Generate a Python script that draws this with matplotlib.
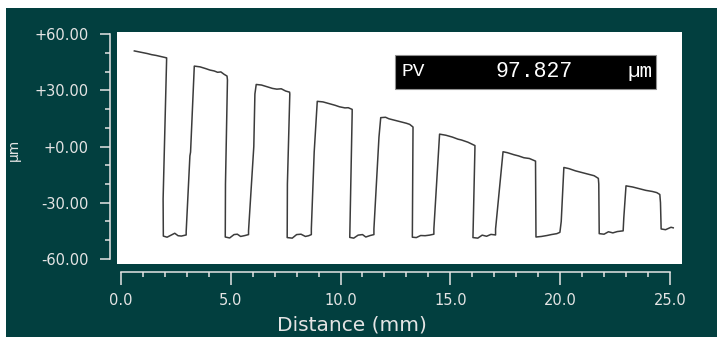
import matplotlib.pyplot as plt
from matplotlib.patches import Rectangle
from matplotlib.ticker import MultipleLocator

# Profile trace (distance in mm, height in um)
distance_mm = [
    0.61, 0.9, 1.2, 1.4, 1.6, 1.85, 2.08,
    2.08, 1.92, 1.93,
    1.93, 2.1, 2.3, 2.45, 2.6, 2.75, 2.97,
    2.97, 3.14, 3.17, 3.34,
    3.34, 3.6, 3.85, 4.05, 4.25, 4.4, 4.55, 4.7, 4.83,
    4.85, 4.76, 4.75,
    4.75, 4.95, 5.15, 5.3, 5.45, 5.65, 5.81,
    5.81, 6.05, 6.1, 6.16,
    6.16, 6.4, 6.7, 6.9, 7.1, 7.3, 7.5, 7.68,
    7.69, 7.58, 7.57,
    7.57, 7.8, 8.0, 8.2, 8.4, 8.55, 8.67,
    8.67, 8.8, 8.94,
    8.94, 9.2, 9.5, 9.75, 9.95, 10.2, 10.35, 10.53,
    10.53, 10.42,
    10.42, 10.6, 10.8, 11.0, 11.15, 11.35, 11.52,
    11.52, 11.75, 11.83,
    11.83, 12.05, 12.2, 12.5, 12.8, 13.0, 13.15, 13.3,
    13.3, 13.27,
    13.27, 13.45, 13.65, 13.85, 14.05, 14.25,
    14.25, 14.45, 14.51,
    14.51, 14.8, 15.1, 15.35, 15.5, 15.8, 16.0, 16.12,
    16.12, 16.03,
    16.03, 16.25, 16.45, 16.65, 16.85, 17.06,
    17.06, 17.3, 17.4,
    17.4, 17.6, 17.9, 18.1, 18.35, 18.6, 18.88,
    18.88, 18.9,
    18.9, 19.15, 19.4, 19.6, 19.85, 19.99,
    20.05, 20.17,
    20.17, 20.4, 20.7, 21.0, 21.3, 21.55, 21.74,
    21.76, 21.78,
    21.78, 22.0, 22.2, 22.4, 22.6, 22.87,
    22.9, 23.0,
    23.0, 23.3, 23.6, 23.9, 24.2, 24.4, 24.54,
    24.57, 24.6,
    24.6, 24.8, 24.95, 25.05, 25.15,
]
height_um = [
    51.0, 50.3, 49.6, 49.0, 48.6, 47.9, 47.3,
    46.8, -28.0, -46.5,
    -47.8, -48.4, -47.2, -46.3, -47.6, -47.8, -47.2,
    -45.5, -5.0, -3.0, 42.5,
    42.9, 42.5, 41.6, 40.8, 40.3, 39.6, 39.8, 38.5, 37.6,
    35.5, -20.0, -47.0,
    -48.3, -48.8, -47.0, -46.8, -48.0, -47.5, -47.0,
    -45.0, 0.0, 28.0, 32.8,
    33.1, 32.8, 31.7, 31.0, 30.6, 30.8, 29.6, 29.0,
    28.0, -20.0, -47.5,
    -48.6, -48.9, -47.0, -46.8, -48.0, -47.6, -47.0,
    -44.0, -3.0, 23.5,
    24.1, 23.8, 22.8, 22.0, 21.2, 20.6, 20.7, 19.8,
    18.0, -47.0,
    -48.5, -48.9, -47.3, -47.0, -48.3, -47.5, -47.0,
    -44.0, 5.0, 15.0,
    15.4, 15.6, 14.8, 13.9, 13.0, 12.4, 11.8, 10.4,
    9.0, -47.0,
    -48.4, -48.6, -47.5, -47.6, -47.3, -46.8,
    -44.0, -5.0, 6.0,
    6.6, 6.0, 5.0, 3.9, 3.5, 2.3, 1.2, 0.5,
    -1.0, -47.5,
    -48.6, -48.9, -47.3, -47.9, -46.9, -47.2,
    -44.0, -15.0, -3.2,
    -2.8, -3.3, -4.4, -5.0, -6.0, -6.4, -7.8,
    -9.0, -47.0,
    -48.3, -48.0, -47.5, -47.0, -46.5, -45.8,
    -40.0, -11.5,
    -11.2, -11.8, -13.0, -13.9, -14.8, -15.6, -17.0,
    -20.0, -45.6,
    -46.5, -46.8, -45.5, -46.1, -45.4, -45.0,
    -38.0, -21.3,
    -21.0, -21.6, -22.5, -23.4, -24.0, -24.6, -25.6,
    -30.0, -43.5,
    -44.0, -44.4, -43.6, -43.1, -43.4,
]

x_ticks = [0.0, 5.0, 10.0, 15.0, 20.0, 25.0]
x_tick_labels = ['0.0', '5.0', '10.0', '15.0', '20.0', '25.0']
y_ticks = [60, 30, 0, -30, -60]
y_tick_labels = ['+60.00', '+30.00', '+0.00', '-30.00', '-60.00']
pv_value = '97.827'

TEAL = '#023f3f'
LIGHT = '#e4e4e4'

fig = plt.figure(figsize=(7.17, 3.37), dpi=100, facecolor='white')
# dark panel behind everything (white strip left and top like the screenshot)
fig.patches.append(Rectangle((6 / 717, 0), 1 - 6 / 717, (337 - 8) / 337,
                             transform=fig.transFigure, facecolor=TEAL,
                             edgecolor='none', zorder=-10))

ax = fig.add_axes([117 / 717, (337 - 264) / 337, 565 / 717, 232 / 337])
ax.set_facecolor('white')
ax.plot(distance_mm, height_um, color='#3c3c3c', linewidth=1.1)

ax.set_xlim(-0.18, 25.55)
ax.set_ylim(-62.7, 61.1)

for s in ['top', 'right']:
    ax.spines[s].set_visible(False)
ax.spines['left'].set_position(('outward', 5.0))
ax.spines['bottom'].set_position(('outward', 5.8))
ax.spines['left'].set_bounds(-60, 60)
ax.spines['bottom'].set_bounds(0, 25)
for s in ['left', 'bottom']:
    ax.spines[s].set_color(LIGHT)
    ax.spines[s].set_linewidth(1.1)

ax.set_xticks(x_ticks)
ax.set_xticklabels(x_tick_labels)
ax.set_yticks(y_ticks)
ax.set_yticklabels(y_tick_labels)
ax.xaxis.set_minor_locator(MultipleLocator(1.0))
ax.yaxis.set_minor_locator(MultipleLocator(10))
ax.tick_params(axis='x', which='major', length=9.4, width=1.1, color=LIGHT,
               labelcolor=LIGHT, labelsize=10.5, pad=6)
ax.tick_params(axis='x', which='minor', length=3.8, width=1.1, color=LIGHT)
ax.tick_params(axis='y', which='major', length=7.2, width=1.1, color=LIGHT,
               labelcolor=LIGHT, labelsize=10.5, pad=8)
ax.tick_params(axis='y', which='minor', length=3.6, width=1.1, color=LIGHT)

fig.text(352 / 717, (337 - 325) / 337, 'Distance (mm)', color=LIGHT,
         fontsize=14.5, ha='center', va='center')
fig.text(14 / 717, (337 - 150) / 337, 'µm', color=LIGHT, fontsize=10,
         rotation=90, ha='center', va='center')

# PV readout box
ax.add_patch(Rectangle((0.492, 0.754), 0.462, 0.147, transform=ax.transAxes,
                       facecolor='black', edgecolor='#909090', linewidth=0.8,
                       zorder=3))
mono = 'Liberation Mono'
ax.text(0.504, 0.828, 'PV', transform=ax.transAxes, color='white',
        family=mono, fontsize=14, ha='left', va='center', zorder=4)
ax.text(0.739, 0.828, pv_value, transform=ax.transAxes, color='white',
        family=mono, fontsize=15.5, ha='center', va='center', zorder=4)
ax.text(0.947, 0.828, 'µm', transform=ax.transAxes, color='white',
        family=mono, fontsize=15, ha='right', va='center', zorder=4)

fig.savefig('out.png', dpi=100, facecolor=fig.get_facecolor())
